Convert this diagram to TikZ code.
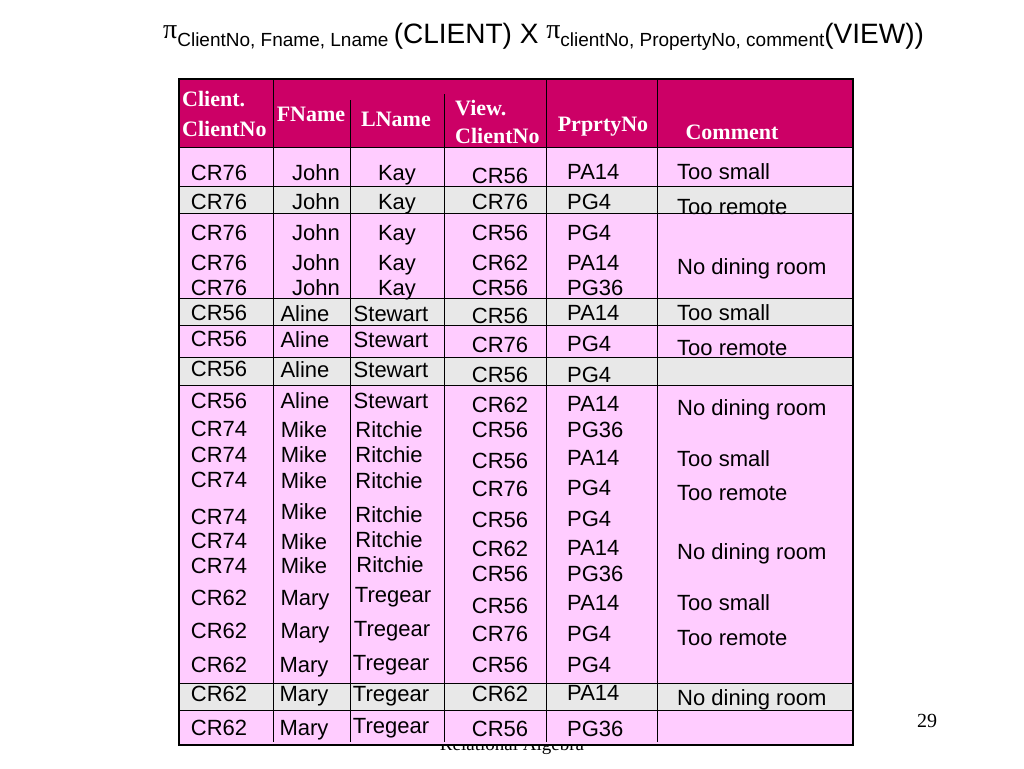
\documentclass[tikz,border=0pt]{standalone}
\usepackage{fontspec}
\setmainfont{Liberation Sans}
\newfontfamily\serif{Liberation Serif}
\definecolor{headpink}{RGB}{204,0,102}
\definecolor{rowpink}{RGB}{255,204,255}
\definecolor{rowgray}{RGB}{232,232,232}
\newcommand{\sub}[1]{\raisebox{-2pt}{\fontsize{19}{20}\selectfont #1}}
\newcommand{\projpi}{\raisebox{5pt}{\serif π}}

\begin{document}
\begin{tikzpicture}[x=1pt, y=-1pt,
    cell/.style={anchor=base, inner sep=0pt, font=\fontsize{22}{24}\selectfont},
    lcell/.style={cell, anchor=base west},
    head/.style={anchor=base, inner sep=0pt, text=white, font=\serif\bfseries\fontsize{22}{24}\selectfont},
    lhead/.style={head, anchor=base west}]
    \useasboundingbox (0,0) rectangle (1024,768);
    % footer, half hidden by the table
    \node[anchor=base, inner sep=0pt, font=\serif\fontsize{19}{20}\selectfont] (footer) at (512,750) {Relational Algebra};
    \node[anchor=base, inner sep=0pt, font=\serif\fontsize{20}{22}\selectfont] (pageno) at (927,727) {29};
    \node[anchor=base west, inner sep=0pt, font=\fontsize{28}{30}\selectfont] (title) at (163,44)
        {\projpi\sub{ClientNo, Fname, Lname }(CLIENT) X \projpi\sub{clientNo, PropertyNo, comment}(VIEW))};

    % table body
    \fill[rowpink] (179,147) rectangle (853,745);
    \foreach \ya/\yb in {186/213, 298/325, 357/385, 683/710}
        \fill[rowgray] (179,\ya) rectangle (853,\yb);
    \fill[headpink] (179,79) rectangle (853,147);
    \foreach \y in {147,186,213,298,325,357,385,683,710}
        \draw (179,\y) -- (853,\y);
    \foreach \x/\ytop in {273/79, 350/100, 444/94, 546/79, 657/79}
        \draw (\x,\ytop) -- (\x,742);
    \draw[line width=1.2pt] (179,79) rectangle (853,745);

    % header
    \node[lhead] (hclient) at (182,106) {Client.};
    \node[lhead] (hclientno) at (182,136) {ClientNo};
    \node[head] (hfname) at (311,121) {FName};
    \node[head] (hlname) at (396,126) {LName};
    \node[lhead] (hview) at (455,115) {View.};
    \node[lhead] (hviewno) at (455,143) {ClientNo};
    \node[head] (hprop) at (603,131) {PrprtyNo};
    \node[head] (hcomment) at (732,139) {Comment};

    % rows
    \foreach \y/\t [count=\i] in {172/CR76, 201/CR76, 232/CR76, 262/CR76, 287/CR76,
        312/CR56, 338/CR56, 368/CR56, 400/CR56, 428/CR74, 454/CR74, 479/CR74, 516/CR74,
        540/CR74, 565/CR74, 597/CR62, 630/CR62, 664/CR62, 693/CR62, 727/CR62}
        \node[cell] (cno\i) at (219,\y+8) {\t};
    \foreach \x/\y/\t [count=\i] in {316/172/John, 316/201/John, 316/232/John, 316/262/John,
        316/287/John, 305/313/Aline, 305/339/Aline, 305/369/Aline, 305/400/Aline,
        304/429/Mike, 304/454/Mike, 304/480/Mike, 304/511/Mike, 304/541/Mike, 304/565/Mike,
        305/597/Mary, 305/630/Mary, 304/664/Mary, 304/693/Mary, 304/727/Mary}
        \node[cell] (fn\i) at (\x,\y+8) {\t};
    \foreach \x/\y/\t [count=\i] in {397/172/Kay, 397/201/Kay, 397/232/Kay, 397/262/Kay,
        397/287/Kay, 391/313/Stewart, 391/339/Stewart, 391/369/Stewart, 391/400/Stewart,
        389/429/Ritchie, 389/454/Ritchie, 389/480/Ritchie, 389/514/Ritchie, 389/539/Ritchie,
        390/564/Ritchie, 393/594/Tregear, 392/628/Tregear, 391/662/Tregear, 391/693/Tregear,
        391/725/Tregear}
        \node[cell] (ln\i) at (\x,\y+8) {\t};
    \foreach \y/\t [count=\i] in {175/CR56, 201/CR76, 232/CR56, 262/CR62, 287/CR56,
        315/CR56, 344/CR76, 374/CR56, 404/CR62, 429/CR56, 460/CR56, 488/CR76, 519/CR56,
        548/CR62, 573/CR56, 605/CR56, 633/CR76, 664/CR56, 693/CR62, 728/CR56}
        \node[cell] (vno\i) at (500,\y+8) {\t};
    \foreach \y/\t [count=\i] in {171/PA14, 201/PG4, 232/PG4, 262/PA14, 287/PG36,
        312/PA14, 343/PG4, 374/PG4, 403/PA14, 429/PG36, 457/PA14, 487/PG4, 518/PG4,
        547/PA14, 573/PG36, 602/PA14, 633/PG4, 664/PG4, 692/PA14, 728/PG36}
        \node[lcell] (pno\i) at (567,\y+8) {\t};
    \foreach \y/\t [count=\i] in {171/Too small, 206/Too remote, 266/No dining room,
        312/Too small, 347/Too remote, 407/No dining room, 458/Too small, 492/Too remote,
        551/No dining room, 602/Too small, 637/Too remote, 697/No dining room}
        \node[lcell] (cm\i) at (677,\y+8) {\t};
\end{tikzpicture}
\end{document}
